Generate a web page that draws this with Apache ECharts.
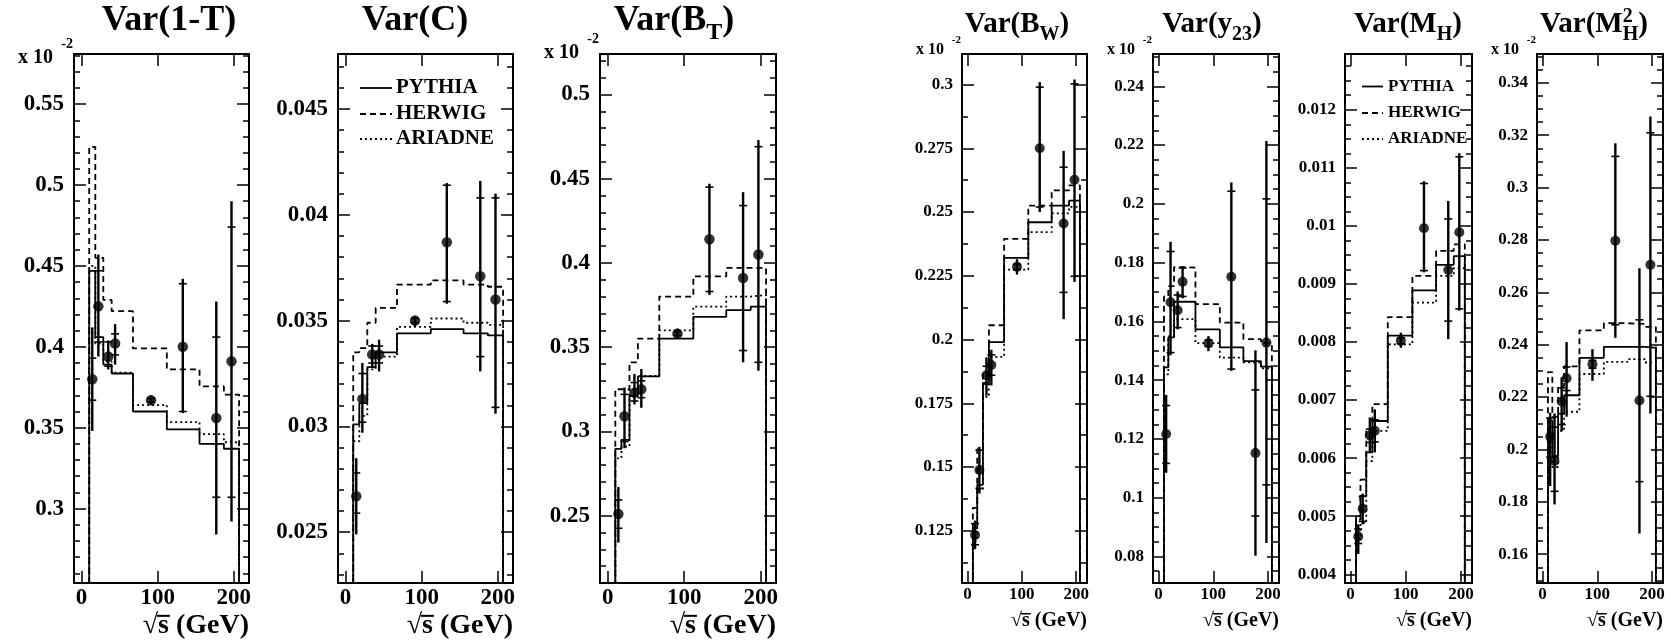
<!DOCTYPE html>
<html>
<head>
<meta charset="utf-8">
<title>Event shape variances versus centre-of-mass energy</title>
<script src="https://cdn.jsdelivr.net/npm/echarts@6.0.0/dist/echarts.min.js"></script>
<style>
  html, body { margin: 0; padding: 0; background: #fff; }
  #chart { width: 1665px; height: 644px; }
</style>
</head>
<body>
<div id="chart"></div>
<script>
'use strict'

// centre-of-mass energies of the measurements (GeV)
const energy = [14, 22, 35, 44, 91.2, 133, 177, 197]
// bin edges of the Monte Carlo histograms (GeV)
const binEdges = [10, 18, 28.5, 39.5, 67.5, 112, 155, 187, 207]
const xTicks = [0, 100, 200]

// Var(1-T)  (x 10^-2)
const thrustVal = [0.380, 0.425, 0.394, 0.402, 0.367, 0.400, 0.356, 0.391]
const thrustStat = [[0.367, 0.393], [0.403, 0.447], [0.388, 0.403], [0.395, 0.408], [0.366, 0.368], [0.360, 0.439], [0.307, 0.406], [0.307, 0.474]]
const thrustTot = [[0.348, 0.412], [0.394, 0.457], [0.386, 0.404], [0.389, 0.414], [0.364, 0.370], [0.359, 0.442], [0.284, 0.428], [0.292, 0.490]]
const thrustPythia = [0.447, 0.406, 0.389, 0.3835, 0.360, 0.349, 0.340, 0.337]
const thrustHerwig = [0.5235, 0.455, 0.429, 0.422, 0.399, 0.386, 0.3755, 0.3705]
const thrustAriadne = [0.450, 0.402, 0.391, 0.384, 0.364, 0.3535, 0.346, 0.341]
const thrustTicks = [0.3, 0.35, 0.4, 0.45, 0.5, 0.55]

// Var(C)
const cparVal = [0.0267, 0.0313, 0.0334, 0.0334, 0.0350, 0.0387, 0.0371, 0.0360]
const cparStat = [[0.0259, 0.0278], [0.0302, 0.0325], [0.0330, 0.0338], [0.0330, 0.0338], [0.0349, 0.0351], [0.0359, 0.0414], [0.0333, 0.0408], [0.0309, 0.0408]]
const cparTot = [[0.0249, 0.0285], [0.0297, 0.0330], [0.0328, 0.0339], [0.0326, 0.0341], [0.0347, 0.0352], [0.0358, 0.0415], [0.0326, 0.0416], [0.0306, 0.0410]]
const cparPythia = [0.0301, 0.0311, 0.0328, 0.0335, 0.0344, 0.0346, 0.0344, 0.0343]
const cparHerwig = [0.0335, 0.0337, 0.0349, 0.0356, 0.0367, 0.0369, 0.0367, 0.0366]
const cparAriadne = [0.0293, 0.0305, 0.0327, 0.0333, 0.0347, 0.0351, 0.0349, 0.0348]
const cparTicks = [0.025, 0.03, 0.035, 0.04, 0.045]

// Var(B_T)  (x 10^-2)
const btVal = [0.251, 0.309, 0.323, 0.325, 0.358, 0.414, 0.391, 0.405]
const btStat = [[0.2425, 0.2593], [0.294, 0.322], [0.318, 0.329], [0.320, 0.330], [0.357, 0.359], [0.383, 0.445], [0.348, 0.434], [0.341, 0.469]]
const btTot = [[0.234, 0.267], [0.290, 0.326], [0.316, 0.334], [0.314, 0.337], [0.355, 0.361], [0.381, 0.447], [0.341, 0.442], [0.336, 0.473]]
const btPythia = [0.2896, 0.295, 0.321, 0.3326, 0.355, 0.368, 0.372, 0.374]
const btHerwig = [0.325, 0.325, 0.341, 0.355, 0.380, 0.392, 0.397, 0.397]
const btAriadne = [0.284, 0.291, 0.325, 0.333, 0.360, 0.374, 0.380, 0.381]
const btTicks = [0.25, 0.3, 0.35, 0.4, 0.45, 0.5]

// Var(B_W)  (x 10^-2)
const bwVal = [0.1233, 0.1488, 0.186, 0.190, 0.2285, 0.275, 0.2455, 0.2627]
const bwStat = [[0.1195, 0.1278], [0.1416, 0.1566], [0.1825, 0.1895], [0.186, 0.194], [0.2275, 0.2295], [0.252, 0.299], [0.2185, 0.2676], [0.2248, 0.3003]]
const bwTot = [[0.1178, 0.1290], [0.1396, 0.1579], [0.178, 0.193], [0.182, 0.196], [0.2255, 0.2315], [0.250, 0.301], [0.208, 0.274], [0.2226, 0.302]]
const bwPythia = [0.126, 0.143, 0.183, 0.199, 0.232, 0.246, 0.2525, 0.2545]
const bwHerwig = [0.134, 0.157, 0.187, 0.2056, 0.2395, 0.2525, 0.2585, 0.2605]
const bwAriadne = [0.121, 0.141, 0.1775, 0.1932, 0.2274, 0.2421, 0.2495, 0.252]
const bwTicks = [0.125, 0.15, 0.175, 0.2, 0.225, 0.25, 0.275, 0.3]

// Var(y23)  (x 10^-2)
const y23Val = [0.1217, 0.1665, 0.1638, 0.1735, 0.1526, 0.1752, 0.1152, 0.1528]
const y23Stat = [[0.1117, 0.1314], [0.1494, 0.1838], [0.1579, 0.1690], [0.1685, 0.1782], [0.1515, 0.1537], [0.1438, 0.2043], [0.0938, 0.1367], [0.1044, 0.2017]]
const y23Tot = [[0.1085, 0.1350], [0.1485, 0.1871], [0.1573, 0.1702], [0.1679, 0.1787], [0.1499, 0.1550], [0.1432, 0.2073], [0.0803, 0.1502], [0.0846, 0.2214]]
const y23Pythia = [0.1444, 0.1546, 0.1667, 0.1667, 0.1573, 0.1512, 0.1465, 0.1446]
const y23Herwig = [0.1685, 0.172, 0.1785, 0.1783, 0.1659, 0.1596, 0.154, 0.1526]
const y23Ariadne = [0.142, 0.155, 0.1608, 0.1608, 0.1526, 0.1477, 0.1461, 0.144]
const y23Ticks = [0.08, 0.1, 0.12, 0.14, 0.16, 0.18, 0.2, 0.22, 0.24]

// Var(M_H)
const mhVal = [0.00465, 0.00513, 0.00639, 0.00647, 0.00802, 0.00996, 0.00924, 0.00989]
const mhStat = [[0.00453, 0.00478], [0.00491, 0.00534], [0.00627, 0.00650], [0.00628, 0.00666], [0.00797, 0.00807], [0.00923, 0.01073], [0.00836, 0.01012], [0.00857, 0.01119]]
const mhTot = [[0.00435, 0.00486], [0.00486, 0.00539], [0.00610, 0.00670], [0.00610, 0.00684], [0.00790, 0.00816], [0.00920, 0.01077], [0.00805, 0.01043], [0.00854, 0.01125]]
const mhPythia = [0.00500, 0.00535, 0.00610, 0.00664, 0.00811, 0.00889, 0.00933, 0.00948]
const mhHerwig = [0.00494, 0.00563, 0.00650, 0.00693, 0.00843, 0.00914, 0.00957, 0.00968]
const mhAriadne = [0.00460, 0.00488, 0.00595, 0.00647, 0.00796, 0.00868, 0.00914, 0.00927]
const mhTicks = [0.004, 0.005, 0.006, 0.007, 0.008, 0.009, 0.01, 0.011, 0.012]

// Var(M_H^2)  (x 10^-2)
const mh2Val = [0.2049, 0.1956, 0.2183, 0.2272, 0.2325, 0.2797, 0.2187, 0.2705]
const mh2Stat = [[0.197, 0.212], [0.184, 0.2085], [0.2095, 0.2235], [0.2225, 0.2315], [0.231, 0.234], [0.2476, 0.3119], [0.1877, 0.2495], [0.2203, 0.3209]]
const mh2Tot = [[0.186, 0.214], [0.179, 0.2137], [0.207, 0.2275], [0.2125, 0.241], [0.2262, 0.2383], [0.2426, 0.3169], [0.1679, 0.2692], [0.2137, 0.3271]]
const mh2Pythia = [0.211, 0.1975, 0.2137, 0.2207, 0.235, 0.2392, 0.2392, 0.2388]
const mh2Herwig = [0.2295, 0.2124, 0.2242, 0.2317, 0.2455, 0.2482, 0.2479, 0.2468]
const mh2Ariadne = [0.2058, 0.1933, 0.2071, 0.2144, 0.2288, 0.2334, 0.2345, 0.2332]
const mh2Ticks = [0.16, 0.18, 0.2, 0.22, 0.24, 0.26, 0.28, 0.3, 0.32, 0.34]

const generators = ['PYTHIA', 'HERWIG', 'ARIADNE']
const dashes = ['solid', [6, 4], [2, 3]]
const graphicDashes = [null, [6, 4], [2, 3]]

const FONT = '"Liberation Serif", "Times New Roman", serif'
const TOP = 54
const BOTTOM = 583
const X_MIN = -10
const X_MAX = 220
const MID = 0.3375 // canvas 'middle' sits this far above the alphabetic baseline (in em)

const BIG = { tick: 23, title: 36, titleY: 21, axisName: 28, axisNameY: 626, mult: 20, multSup: 14, multGap: 21, multRaise: 14, legend: 21, legendX: [22, 54, 58], legendY: [88, 114, 139], yMargin: 10, xMargin: 4, dot: 10.5 }
const SMALL = { tick: 17, title: 29, titleY: 25, axisName: 20, axisNameY: 621, mult: 16, multSup: 11, multGap: 18, multRaise: 10, legend: 17, legendX: [17, 38, 43], legendY: [86.5, 113, 139], yMargin: 9, xMargin: 3, dot: 10 }

const panels = [
  { title: [['Var(1-T)']], titleX: 169, left: 74, width: 175, yMin: 0.254, yMax: 0.581, ticks: thrustTicks, minorStep: 0.01,
    val: thrustVal, stat: thrustStat, tot: thrustTot, mc: [thrustPythia, thrustHerwig, thrustAriadne], size: BIG, multY: 58 },
  { title: [['Var(C)']], titleX: 415, left: 338, width: 175, yMin: 0.0226, yMax: 0.0476, ticks: cparTicks, minorStep: 0.001,
    val: cparVal, stat: cparStat, tot: cparTot, mc: [cparPythia, cparHerwig, cparAriadne], size: BIG, legend: true },
  { title: [['Var(B'], ['T', 'sub'], [')']], titleX: 674, left: 600, width: 176, yMin: 0.21, yMax: 0.524, ticks: btTicks, minorStep: 0.01,
    val: btVal, stat: btStat, tot: btTot, mc: [btPythia, btHerwig, btAriadne], size: BIG, multY: 53 },
  { title: [['Var(B'], ['W', 'sub'], [')']], titleX: 1017, left: 962, width: 125, yMin: 0.1045, yMax: 0.312, ticks: bwTicks, minorStep: 0.0125,
    val: bwVal, stat: bwStat, tot: bwTot, mc: [bwPythia, bwHerwig, bwAriadne], size: SMALL, multY: 50 },
  { title: [['Var(y'], ['23', 'sub'], [')']], titleX: 1212, left: 1153, width: 126, yMin: 0.071, yMax: 0.251, ticks: y23Ticks, minorStep: 0.005,
    val: y23Val, stat: y23Stat, tot: y23Tot, mc: [y23Pythia, y23Herwig, y23Ariadne], size: SMALL, multY: 50 },
  { title: [['Var(M'], ['H', 'sub'], [')']], titleX: 1408, left: 1345, width: 127, yMin: 0.00385, yMax: 0.01296, ticks: mhTicks, minorStep: 0.00025,
    val: mhVal, stat: mhStat, tot: mhTot, mc: [mhPythia, mhHerwig, mhAriadne], size: SMALL, legend: true },
  { title: [['Var(M'], ['H', 'sub', '2'], [')']], titleX: 1594, left: 1537, width: 126, yMin: 0.149, yMax: 0.351, ticks: mh2Ticks, minorStep: 0.005,
    val: mh2Val, stat: mh2Stat, tot: mh2Tot, mc: [mh2Pythia, mh2Herwig, mh2Ariadne], size: SMALL, multY: 50 }
]

const measureCtx = document.createElement('canvas').getContext('2d')
function measure(text, size) {
  measureCtx.font = `bold ${size}px ${FONT}`
  return measureCtx.measureText(text).width
}

function textEl(text, x, y, size, align) {
  return {
    type: 'text', x: x, y: y, silent: true, z: 10,
    style: { text: text, fill: '#000', font: `bold ${size}px ${FONT}`, align: align, verticalAlign: 'middle', textAlign: align, textVerticalAlign: 'middle' }
  }
}

// title with sub/superscripts, laid out around a centre x
function titleTexts(parts, cx, cy, fs) {
  const small = Math.round(fs * 0.68)
  const base = cy + MID * fs
  const widths = parts.map(([t, kind, sup]) => kind ? Math.max(measure(t, small), sup ? measure(sup, small) : 0) : measure(t, fs))
  let x = cx - widths.reduce((a, b) => a + b, 0) / 2
  const out = []
  parts.forEach(([t, kind, sup], k) => {
    if (!kind) {
      out.push(textEl(t, x, cy, fs, 'left'))
    } else {
      out.push(textEl(t, x, base + 0.22 * fs - MID * small, small, 'left'))
      if (sup) out.push(textEl(sup, x, base - 0.4 * fs - MID * small, small, 'left'))
    }
    x += widths[k]
  })
  return out
}

// "√s (GeV)" right-aligned at the frame, with the bar of the root drawn over the s
function energyLabel(right, cy, fs) {
  const label = '√s (GeV)'
  const x0 = right - measure(label, fs)
  const wRoot = measure('√', fs)
  const wS = measure('s', fs)
  const yBar = cy + MID * fs - 0.7 * fs
  return [
    textEl(label, right, cy, fs, 'right'),
    { type: 'line', silent: true, z: 10, shape: { x1: x0 + wRoot - 1, y1: yBar, x2: x0 + wRoot + wS + 1, y2: yBar }, style: { stroke: '#000', lineWidth: fs > 24 ? 2 : 1.5 } }
  ]
}

function minorTicks(min, max, step) {
  const out = []
  for (let k = Math.ceil(min / step - 1e-9); k * step <= max + 1e-12; k++) out.push(+(k * step).toFixed(6))
  return out
}

// histogram outline: rises from zero at the first edge and drops back at the last one
function stepPoints(vals) {
  const pts = [[binEdges[0], 0]]
  vals.forEach((v, k) => {
    pts.push([binEdges[k], v], [binEdges[k + 1], v])
  })
  pts.push([binEdges[binEdges.length - 1], 0])
  return pts
}

function errorBar(params, api) {
  const x = api.value(0)
  const lo = api.coord([x, api.value(3)])
  const hi = api.coord([x, api.value(4)])
  const s1 = api.coord([x, api.value(1)])
  const s2 = api.coord([x, api.value(2)])
  const hw = 4
  return {
    type: 'group',
    children: [
      { type: 'line', shape: { x1: lo[0], y1: lo[1], x2: hi[0], y2: hi[1] }, style: { stroke: '#000', lineWidth: 2.4 } },
      { type: 'line', shape: { x1: s1[0] - hw, y1: s1[1], x2: s1[0] + hw, y2: s1[1] }, style: { stroke: '#000', lineWidth: 1.6 } },
      { type: 'line', shape: { x1: s2[0] - hw, y1: s2[1], x2: s2[0] + hw, y2: s2[1] }, style: { stroke: '#000', lineWidth: 1.6 } }
    ]
  }
}

const fmt = v => String(parseFloat(Number(v).toFixed(5)))

const grid = []
const xAxis = []
const yAxis = []
const series = []
const elements = []

panels.forEach((p, i) => {
  const S = p.size
  const right = p.left + p.width
  grid.push({ left: p.left, top: TOP, width: p.width, height: BOTTOM - TOP, containLabel: false, outerBoundsMode: 'none' })

  const labelStyle = { fontFamily: FONT, fontWeight: 'bold', fontSize: S.tick, color: '#000' }
  const frame = { show: true, onZero: false, lineStyle: { color: '#000', width: 2 } }
  const noLine = { show: false, onZero: false }
  const tick = (len, values) => ({ show: true, inside: true, length: len, customValues: values, lineStyle: { color: '#000', width: 1.5 } })
  const minors = minorTicks(p.yMin, p.yMax, p.minorStep)

  const xBase = { gridIndex: i, type: 'value', min: X_MIN, max: X_MAX, splitLine: { show: false }, axisLine: frame }
  xAxis.push(Object.assign({}, xBase, { position: 'bottom', axisTick: tick(12, xTicks), axisLabel: Object.assign({ customValues: xTicks, margin: S.xMargin }, labelStyle) }))
  xAxis.push(Object.assign({}, xBase, { position: 'top', axisTick: tick(12, xTicks), axisLabel: { show: false } }))

  const yBase = { gridIndex: i, type: 'value', min: p.yMin, max: p.yMax, splitLine: { show: false } }
  yAxis.push(Object.assign({}, yBase, { position: 'left', axisLine: frame, axisTick: tick(12, p.ticks), axisLabel: Object.assign({ customValues: p.ticks, margin: S.yMargin, formatter: fmt }, labelStyle) }))
  yAxis.push(Object.assign({}, yBase, { position: 'left', axisLine: noLine, axisTick: tick(6, minors), axisLabel: { show: false } }))
  yAxis.push(Object.assign({}, yBase, { position: 'right', axisLine: frame, axisTick: tick(12, p.ticks), axisLabel: { show: false } }))
  yAxis.push(Object.assign({}, yBase, { position: 'right', axisLine: noLine, axisTick: tick(6, minors), axisLabel: { show: false } }))

  const xi = 2 * i
  const yi = 4 * i
  p.mc.forEach((vals, m) => {
    series.push({
      type: 'line', name: generators[m], xAxisIndex: xi, yAxisIndex: yi, data: stepPoints(vals),
      symbol: 'none', showSymbol: false, clip: true, silent: true, z: 2,
      lineStyle: { color: '#000', width: 1.8, type: dashes[m] }
    })
  })
  series.push({
    type: 'custom', xAxisIndex: xi, yAxisIndex: yi, clip: true, silent: true, z: 3,
    data: energy.map((e, k) => [e, p.stat[k][0], p.stat[k][1], p.tot[k][0], p.tot[k][1]]),
    encode: { x: 0, y: [1, 2, 3, 4] },
    renderItem: errorBar
  })
  series.push({
    type: 'scatter', xAxisIndex: xi, yAxisIndex: yi, silent: true, z: 4,
    data: energy.map((e, k) => [e, p.val[k]]),
    symbol: 'circle', symbolSize: S.dot, itemStyle: { color: '#000' }
  })

  // title, multiplier and axis title
  elements.push(...titleTexts(p.title, p.titleX, S.titleY, S.title))
  if (p.multY) {
    elements.push(textEl('x 10', p.left - S.multGap, p.multY, S.mult, 'right'))
    elements.push(textEl('-2', p.left - 1, p.multY - S.multRaise, S.multSup, 'right'))
  }
  elements.push(...energyLabel(right, S.axisNameY, S.axisName))

  if (p.legend) {
    generators.forEach((name, m) => {
      const y = S.legendY[m]
      elements.push({
        type: 'line', silent: true, z: 10,
        shape: { x1: p.left + S.legendX[0], y1: y, x2: p.left + S.legendX[1], y2: y },
        style: { stroke: '#000', lineWidth: 1.8, lineDash: graphicDashes[m] }
      })
      elements.push(textEl(name, p.left + S.legendX[2], y, S.legend, 'left'))
    })
  }
})

const chart = echarts.init(document.getElementById('chart'), null, { renderer: 'canvas' })
chart.setOption({
  backgroundColor: '#fff',
  animation: false,
  grid: grid,
  xAxis: xAxis,
  yAxis: yAxis,
  series: series,
  graphic: { elements: elements }
})
</script>
</body>
</html>
